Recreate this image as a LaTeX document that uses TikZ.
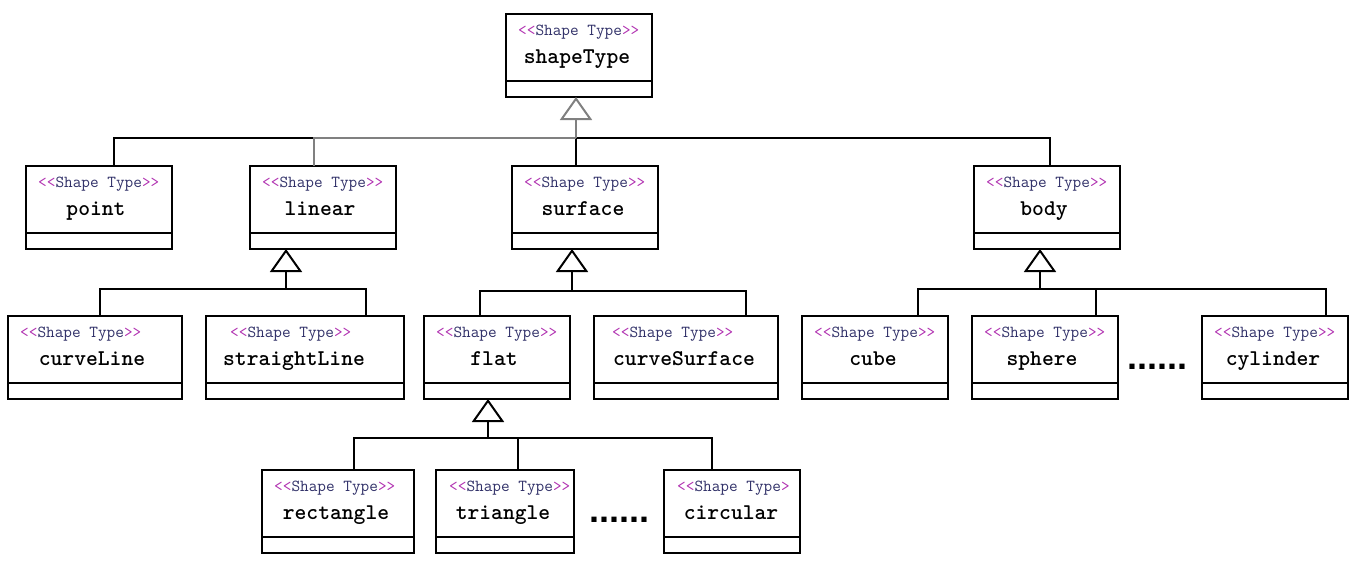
\documentclass[tikz,border=0pt]{standalone}
\usepackage{fontspec}
\usetikzlibrary{arrows.meta,calc}
\newfontfamily\dotfont{Liberation Sans}
\definecolor{ubrk}{HTML}{B030B0}
\definecolor{utxt}{HTML}{303068}
\definecolor{ugray}{HTML}{808080}
\newcommand\umlstereo[1]{{\color{ubrk}{<}{<}}{\color{utxt}Shape Type}{\color{ubrk}#1}}
% #1 closing, #2 name, #3 left, #4 top, #5 width, #6 stereo offset, #7 name offset, #8 text
\newcommand\umlcls[8][{>}{>}]{%
  \node[box, anchor=north west, minimum width=#5pt, minimum height=83pt] (#2) at (#3,#4) {};
  \draw[conn] ([yshift=-67pt]#2.north west) -- ([yshift=-67pt]#2.north east);
  \node[anchor=base west, inner sep=0, font=\ttfamily\fontsize{16.8}{16.8}\selectfont] at ([xshift=#6pt,yshift=-21pt]#2.north west) {\umlstereo{#1}};
  \node[anchor=base, inner sep=0, font=\ttfamily\bfseries\fontsize{22.5}{22.5}\selectfont] at ([xshift=#7pt,yshift=-49pt]#2.north west) {#8};
}
\tikzset{
  box/.style={draw, line width=2pt, inner sep=0, outer sep=0},
  conn/.style={line width=2pt, line cap=rect},
  gconn/.style={line width=2pt, draw=ugray},
  tri/.style={-{Triangle[open, length=23pt, width=32pt, line width=2pt]}},
}
\begin{document}
\begin{tikzpicture}[x=1pt, y=-1pt]
\useasboundingbox (0,0) rectangle (1354,570);
\umlcls{shapeType}{506}{14}{146}{12}{71}{shapeType}
\umlcls{point}{26}{166}{146}{12}{70}{point}
\umlcls{linear}{250}{166}{146}{12}{70}{linear}
\umlcls{surface}{512}{166}{146}{12}{71}{surface}
\umlcls{body}{974}{166}{146}{12}{70}{body}
\umlcls{curveLine}{8}{316}{174}{12}{84}{curveLine}
\umlcls{straightLine}{206}{316}{198}{24}{88}{straightLine}
\umlcls{flat}{424}{316}{146}{12}{70}{flat}
\umlcls{curveSurface}{594}{316}{184}{18}{90}{curveSurface}
\umlcls{cube}{802}{316}{146}{12}{71}{cube}
\umlcls{sphere}{972}{316}{146}{12}{70}{sphere}
\umlcls{cylinder}{1202}{316}{146}{12}{71}{cylinder}
\umlcls{rectangle}{262}{470}{152}{12}{74}{rectangle}
\umlcls{triangle}{436}{470}{138}{13}{67}{triangle}
\umlcls[{>}]{circular}{664}{470}{136}{13}{67}{circular}
\node[anchor=base west, inner sep=0, font=\dotfont\bfseries\fontsize{36}{36}\selectfont] (dotsA) at (1127,369) {......};
\node[anchor=base west, inner sep=0, font=\dotfont\bfseries\fontsize{36}{36}\selectfont] (dotsB) at (589,522) {......};
% top level
\coordinate (j0) at (576,138);
\coordinate (jP) at ([xshift=88pt]point.north west);
\coordinate (jL) at ([xshift=64pt]linear.north west);
\coordinate (jS) at ([xshift=64pt]surface.north west);
\coordinate (jB) at ([xshift=76pt]body.north west);
\draw[conn] (jP) |- (jL |- j0);
\draw[conn] (jS) -- (j0) -- (jB |- j0) -- (jB);
\draw[gconn] (jL) |- (j0);
\draw[gconn, tri] (j0) -- (j0 |- shapeType.south);
% linear
\coordinate (j1) at ([xshift=36pt, yshift=-40pt]linear.south west);
\coordinate (jCL) at ([xshift=92pt]curveLine.north west);
\coordinate (jSL) at ([xshift=160pt]straightLine.north west);
\draw[conn] (jCL) |- (jSL |- j1) -- (jSL);
\draw[conn, tri] (j1) -- (j1 |- linear.south);
% surface
\coordinate (j2) at ([xshift=60pt, yshift=-42pt]surface.south west);
\coordinate (jF) at ([xshift=56pt]flat.north west);
\coordinate (jCS) at ([xshift=152pt]curveSurface.north west);
\draw[conn] (jF) |- (jCS |- j2) -- (jCS);
\draw[conn, tri] (j2) -- (j2 |- surface.south);
% body
\coordinate (j3) at ([xshift=66pt, yshift=-40pt]body.south west);
\coordinate (jCu) at ([xshift=116pt]cube.north west);
\coordinate (jSp) at ([xshift=124pt]sphere.north west);
\coordinate (jCy) at ([xshift=124pt]cylinder.north west);
\draw[conn] (jCu) |- (jCy |- j3) -- (jCy);
\draw[conn] (jSp) -- (jSp |- j3);
\draw[conn, tri] (j3) -- (j3 |- body.south);
% flat
\coordinate (j4) at ([xshift=64pt, yshift=-39pt]flat.south west);
\coordinate (jR) at ([xshift=92pt]rectangle.north west);
\coordinate (jT) at ([xshift=82pt]triangle.north west);
\coordinate (jC) at ([xshift=48pt]circular.north west);
\draw[conn] (jR) |- (jC |- j4) -- (jC);
\draw[conn] (jT) -- (jT |- j4);
\draw[conn, tri] (j4) -- (j4 |- flat.south);
\end{tikzpicture}
\end{document}
